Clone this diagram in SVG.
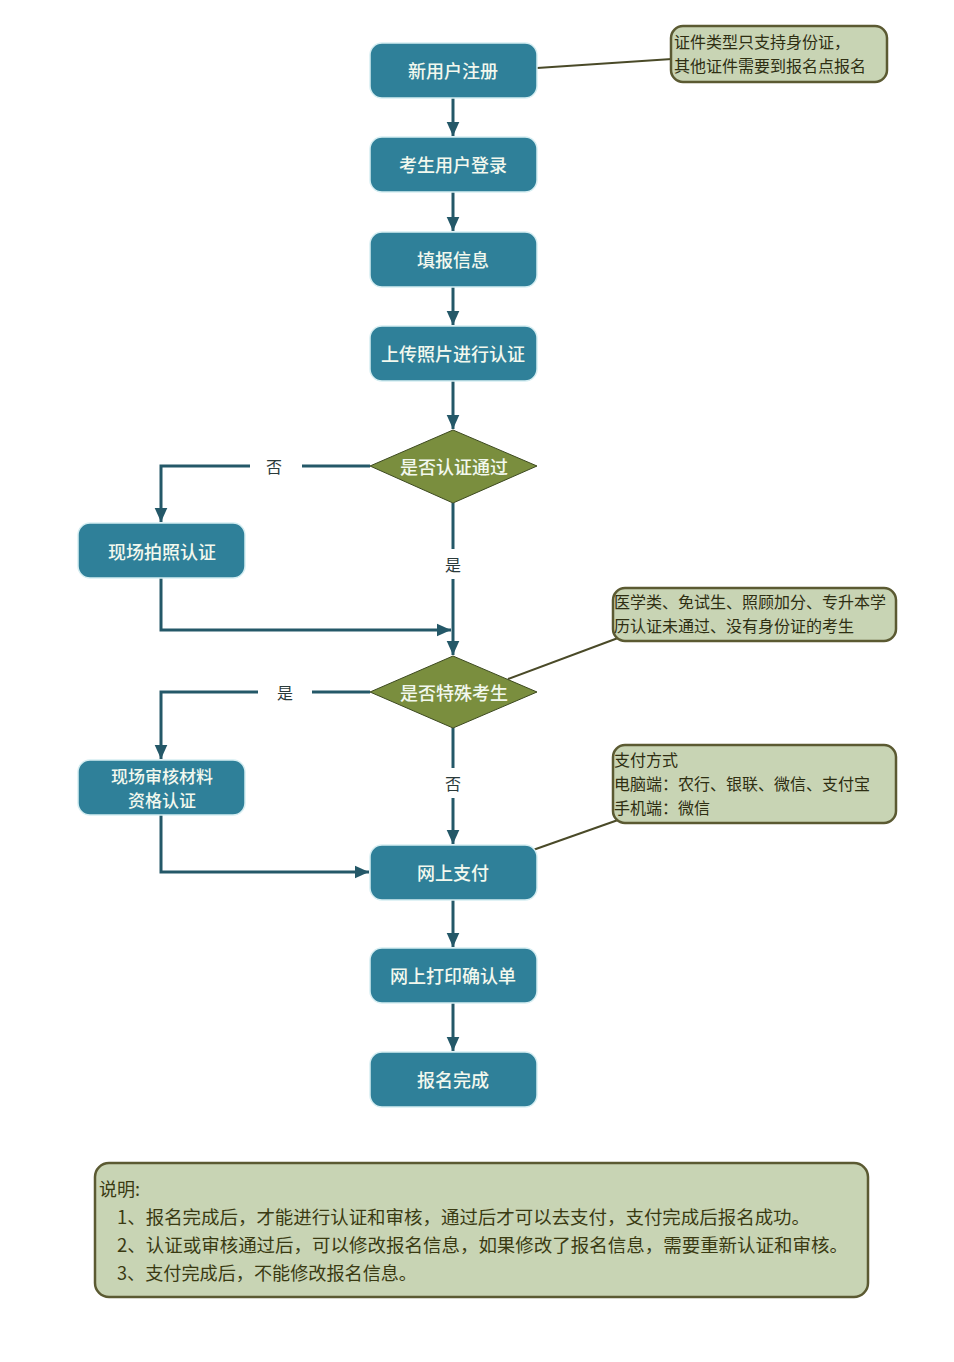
<svg xmlns="http://www.w3.org/2000/svg" width="954" height="1362" viewBox="0 0 954 1362">
<defs>
<marker id="arr" viewBox="0 0 10 10" refX="10" refY="5" markerWidth="14" markerHeight="14" markerUnits="userSpaceOnUse" orient="auto">
<path d="M0,0.5 L10,5 L0,9.5 z" fill="#245868"/>
</marker>
<style>
.box{fill:#2f8099;stroke:#d6eef2;stroke-width:1.5}
.dia{fill:#7a8e3e;stroke:#3d4a20;stroke-width:1}
.btxt{font-family:"Noto Sans CJK SC",sans-serif;font-size:18px;fill:#f2f8ee;text-anchor:middle;dominant-baseline:central;font-weight:500}
.b2{font-size:17px}
.note{fill:#c8d4b4;stroke:#5b5a32;stroke-width:2.5}
.ntxt{font-family:"Noto Sans CJK SC",sans-serif;font-size:16px;fill:#2e2e12}
.lbl{font-family:"Noto Sans CJK SC",sans-serif;font-size:16px;fill:#2a3a3a;text-anchor:middle;dominant-baseline:central}
.ln{fill:none;stroke:#245868;stroke-width:3}
.nl{fill:none;stroke:#4a4a28;stroke-width:2}
.etxt{font-family:"Noto Sans CJK SC",sans-serif;font-size:18px;fill:#3a3a12}
</style>
</defs>
<rect width="954" height="1362" fill="#ffffff"/>

<g id="connectors">
<path class="ln" d="M453,98 V136" marker-end="url(#arr)"/>
<path class="ln" d="M453,192 V231" marker-end="url(#arr)"/>
<path class="ln" d="M453,287 V325" marker-end="url(#arr)"/>
<path class="ln" d="M453,381 V429" marker-end="url(#arr)"/>
<path class="ln" d="M370,466 H161 V522" marker-end="url(#arr)"/>
<path class="ln" d="M453,503 V655" marker-end="url(#arr)"/>
<path class="ln" d="M161,578 V630 H451" marker-end="url(#arr)"/>
<path class="ln" d="M370,692 H161 V759" marker-end="url(#arr)"/>
<path class="ln" d="M453,728 V844" marker-end="url(#arr)"/>
<path class="ln" d="M161,815 V872 H369" marker-end="url(#arr)"/>
<path class="ln" d="M453,900 V947" marker-end="url(#arr)"/>
<path class="ln" d="M453,1003 V1051" marker-end="url(#arr)"/>
<rect x="250" y="454" width="52" height="24" fill="#ffffff"/>
<text class="lbl" x="274" y="466">否</text>
<rect x="440" y="549" width="26" height="30" fill="#ffffff"/>
<text class="lbl" x="453" y="564">是</text>
<rect x="258" y="680" width="54" height="24" fill="#ffffff"/>
<text class="lbl" x="285" y="692">是</text>
<rect x="440" y="768" width="26" height="30" fill="#ffffff"/>
<text class="lbl" x="453" y="783">否</text>
<path class="nl" d="M537,68 L672,59"/>
<path class="nl" d="M508,679 L618,638"/>
<path class="nl" d="M533,850 L618,820"/>
</g>

<g id="n1"><rect class="box" x="370" y="43" width="167" height="55" rx="12"/><text class="btxt" x="453" y="70">新用户注册</text></g>
<g id="n2"><rect class="box" x="370" y="137" width="167" height="55" rx="12"/><text class="btxt" x="453" y="164">考生用户登录</text></g>
<g id="n3"><rect class="box" x="370" y="232" width="167" height="55" rx="12"/><text class="btxt" x="453" y="259">填报信息</text></g>
<g id="n4"><rect class="box" x="370" y="326" width="167" height="55" rx="12"/><text class="btxt" x="453" y="353">上传照片进行认证</text></g>
<g id="d1"><polygon class="dia" points="453,430 537,466 453,503 370,466"/><text class="btxt" x="454" y="466">是否认证通过</text></g>
<g id="n5"><rect class="box" x="78" y="523" width="167" height="55" rx="12"/><text class="btxt" x="162" y="551">现场拍照认证</text></g>
<g id="d2"><polygon class="dia" points="453,656 537,692 453,728 370,692"/><text class="btxt" x="454" y="692">是否特殊考生</text></g>
<g id="n6"><rect class="box" x="78" y="760" width="167" height="55" rx="12"/><text class="btxt b2" x="162" y="775">现场审核材料</text><text class="btxt b2" x="162" y="799">资格认证</text></g>
<g id="n7"><rect class="box" x="370" y="845" width="167" height="55" rx="12"/><text class="btxt" x="453" y="872">网上支付</text></g>
<g id="n8"><rect class="box" x="370" y="948" width="167" height="55" rx="12"/><text class="btxt" x="453" y="975">网上打印确认单</text></g>
<g id="n9"><rect class="box" x="370" y="1052" width="167" height="55" rx="12"/><text class="btxt" x="453" y="1079">报名完成</text></g>

<g id="note1"><rect class="note" x="671" y="26" width="216" height="56" rx="12"/>
<text class="ntxt" x="674" y="48">证件类型只支持身份证，</text>
<text class="ntxt" x="674" y="72">其他证件需要到报名点报名</text></g>
<g id="note2"><rect class="note" x="613" y="588" width="283" height="53" rx="12"/>
<text class="ntxt" x="614" y="608">医学类、免试生、照顾加分、专升本学</text>
<text class="ntxt" x="614" y="632">历认证未通过、没有身份证的考生</text></g>
<g id="note3"><rect class="note" x="613" y="745" width="283" height="78" rx="12"/>
<text class="ntxt" x="614" y="766">支付方式</text>
<text class="ntxt" x="614" y="790">电脑端：农行、银联、微信、支付宝</text>
<text class="ntxt" x="614" y="814">手机端：微信</text></g>

<g id="explain"><rect class="note" x="95" y="1163" width="773" height="134" rx="14"/>
<text class="etxt" x="99" y="1196">说明:</text>
<text class="etxt" x="117" y="1224" textLength="693" lengthAdjust="spacingAndGlyphs">1、报名完成后，才能进行认证和审核，通过后才可以去支付，支付完成后报名成功。</text>
<text class="etxt" x="117" y="1252" textLength="731" lengthAdjust="spacingAndGlyphs">2、认证或审核通过后，可以修改报名信息，如果修改了报名信息，需要重新认证和审核。</text>
<text class="etxt" x="117" y="1280" textLength="300" lengthAdjust="spacingAndGlyphs">3、支付完成后，不能修改报名信息。</text></g>
</svg>
